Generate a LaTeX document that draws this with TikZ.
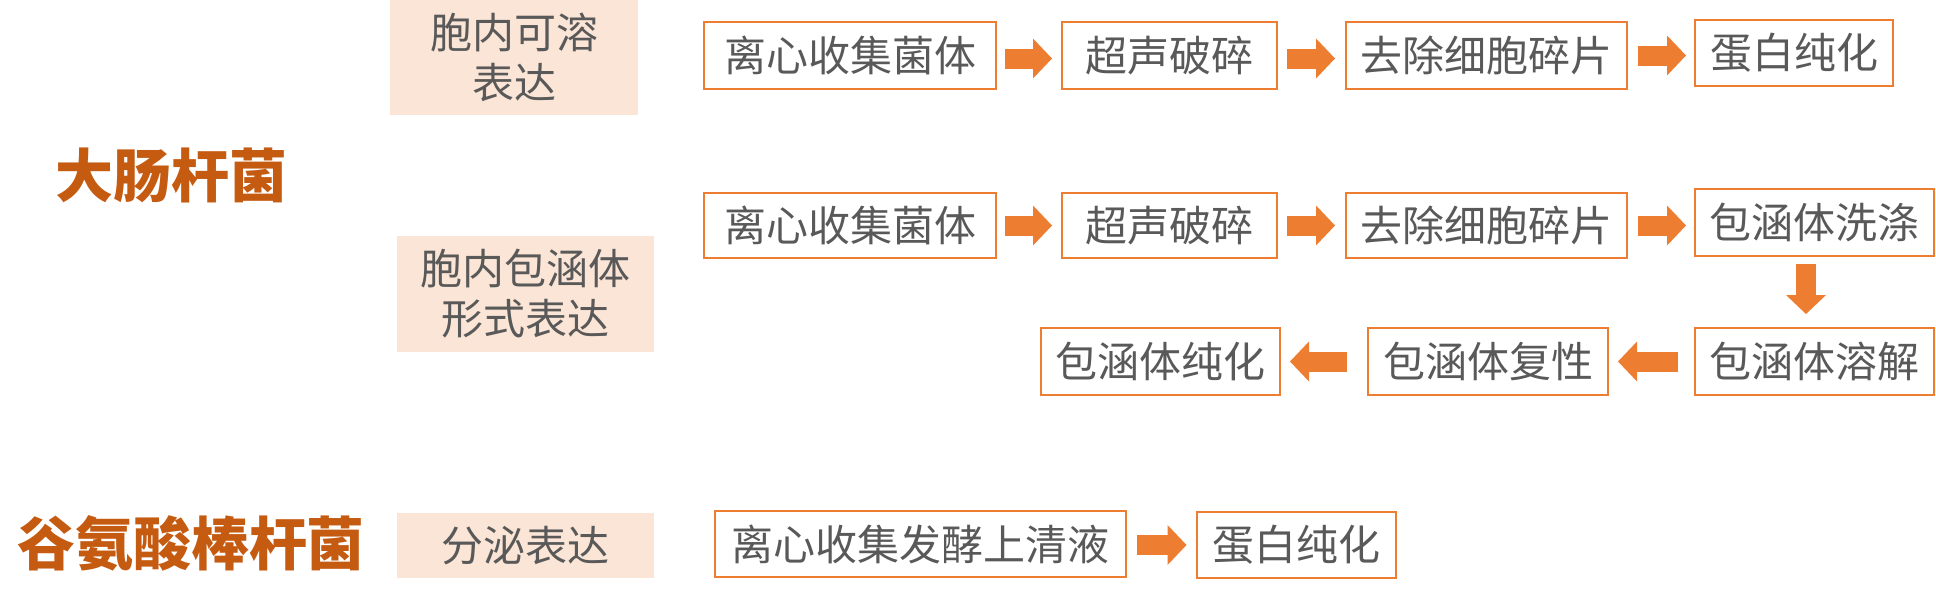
\documentclass[tikz,border=0pt]{standalone}
\usepackage{fontspec}
\setmainfont{Noto Sans CJK SC}
\usetikzlibrary{arrows.meta}
\definecolor{ora}{HTML}{ED7D31}
\definecolor{txtgray}{HTML}{595959}
\definecolor{peach}{HTML}{FBE5D6}
\definecolor{ttl}{HTML}{C55A11}
\tikzset{
  obox/.style={draw=ora, line width=2pt, fill=white, text=txtgray, inner sep=0pt,
    font=\fontsize{42pt}{50pt}\selectfont},
  pbox/.style={fill=peach, text=txtgray, inner sep=0pt, align=center,
    font=\fontsize{42pt}{50pt}\selectfont},
  ttlnode/.style={text=ttl, inner sep=0pt, font=\fontsize{58pt}{66pt}\selectfont\bfseries},
  barrow/.style={draw=ora, line width=20pt, -{Triangle[length=19pt,width=40pt,line width=0pt]}}
}
\begin{document}
\begin{tikzpicture}[x=1pt,y=1pt]
\useasboundingbox (0,0) rectangle (1936,-589);
% titles
\node[ttlnode] (t1) at (171,-175) {大肠杆菌};
\node[ttlnode] (t2) at (191,-543) {谷氨酸棒杆菌};
% expression boxes
\node[pbox, minimum width=248pt, minimum height=115pt] (p1) at (514,-57.5) {胞内可溶\\表达};
\node[pbox, minimum width=257pt, minimum height=116pt] (p2) at (525,-294) {胞内包涵体\\形式表达};
\node[pbox, minimum width=257pt, minimum height=65pt] (p3) at (525,-545.5) {分泌表达};
% row 1
\node[obox, minimum width=292pt, minimum height=67pt] (a1) at (850,-55.5) {离心收集菌体};
\node[obox, minimum width=215pt, minimum height=67pt] (a2) at (1169.5,-55.5) {超声破碎};
\node[obox, minimum width=281pt, minimum height=67pt] (a3) at (1486.5,-55.5) {去除细胞碎片};
\node[obox, minimum width=198pt, minimum height=66pt] (a4) at (1794,-53) {蛋白纯化};
% row 2
\node[obox, minimum width=292pt, minimum height=65pt] (b1) at (850,-225.5) {离心收集菌体};
\node[obox, minimum width=215pt, minimum height=65pt] (b2) at (1169.5,-225.5) {超声破碎};
\node[obox, minimum width=281pt, minimum height=65pt] (b3) at (1486.5,-225.5) {去除细胞碎片};
\node[obox, minimum width=239pt, minimum height=67pt] (b4) at (1814.5,-222.5) {包涵体洗涤};
% row 3
\node[obox, minimum width=239pt, minimum height=67pt] (c1) at (1814.5,-361.5) {包涵体溶解};
\node[obox, minimum width=240pt, minimum height=67pt] (c2) at (1488,-361.5) {包涵体复性};
\node[obox, minimum width=239pt, minimum height=67pt] (c3) at (1160.5,-361.5) {包涵体纯化};
% row 4
\node[obox, minimum width=411pt, minimum height=66pt] (d1) at (920.5,-544) {离心收集发酵上清液};
\node[obox, minimum width=199pt, minimum height=66pt] (d2) at (1296,-545) {蛋白纯化};
% arrows row 1
\draw[barrow] ([xshift=8pt,yshift=-3pt]a1.east) -- ([xshift=-9pt,yshift=-3pt]a2.west);
\draw[barrow] ([xshift=9pt,yshift=-3pt]a2.east) -- ([xshift=-10pt,yshift=-3pt]a3.west);
\draw[barrow] ([xshift=10pt]a3.east) -- ([xshift=-8pt]a4.west |- a3.east);
% arrows row 2
\draw[barrow] ([xshift=8pt]b1.east) -- ([xshift=-9pt]b2.west);
\draw[barrow] ([xshift=9pt]b2.east) -- ([xshift=-10pt]b3.west);
\draw[barrow] ([xshift=10pt]b3.east) -- ([xshift=-8pt]b4.west |- b3.east);
% down arrow
\draw[barrow] ([xshift=-8.5pt,yshift=-7pt]b4.south) -- ([xshift=-8.5pt,yshift=13pt]c1.north);
% arrows row 3 (leftward)
\draw[barrow] ([xshift=-16pt]c1.west) -- ([xshift=9pt]c2.east);
\draw[barrow] ([xshift=-20pt]c2.west) -- ([xshift=9pt]c3.east);
% arrow row 4
\draw[barrow] ([xshift=10pt,yshift=-1pt]d1.east) -- ([xshift=-9pt]d2.west);
\end{tikzpicture}
\end{document}
